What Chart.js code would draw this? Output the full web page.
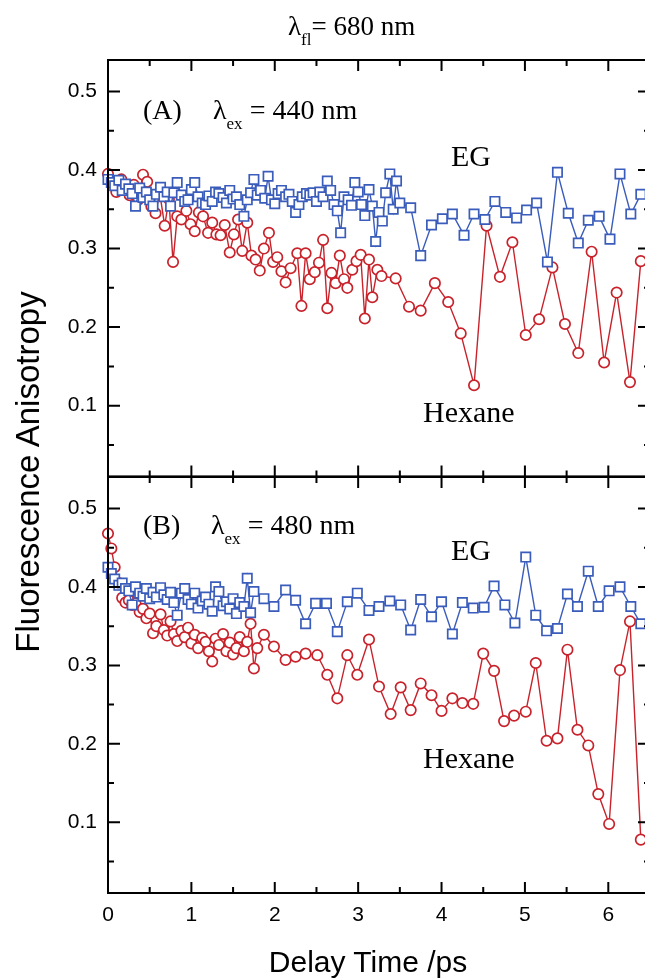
<!DOCTYPE html>
<html>
<head>
<meta charset="utf-8">
<script src="https://cdn.jsdelivr.net/npm/chart.js@4.4.0/dist/chart.umd.min.js"></script>
<style>
  html, body { margin: 0; padding: 0; background: #fff; }
  #page { position: relative; width: 645px; height: 979px; overflow: hidden; background: #fff; }
  canvas { position: absolute; left: 0; }
  #chartA { top: 0; }
  #chartB { top: 450px; }
  .note { position: absolute; font-family: 'Liberation Serif', 'Times New Roman', serif; font-size: 28px; line-height: 1; white-space: nowrap; color: #000; }
  .note sub { font-size: 17px; line-height: 0; vertical-align: -10px; }
  .big { font-size: 30px; }
  #ytitle { position: absolute; left: -222px; top: 455px; width: 500px; height: 34px; line-height: 34px; text-align: center;
    font-family: 'Liberation Sans', Arial, sans-serif; font-size: 33px; color: #000; transform: rotate(-90deg); white-space: nowrap; }
  #xtitle { position: absolute; left: 168px; top: 946px; width: 400px; text-align: center; line-height: 32px;
    font-family: 'Liberation Sans', Arial, sans-serif; font-size: 30px; color: #000; white-space: nowrap; }
</style>
</head>
<body>
<div id="page">
  <canvas id="chartA" width="660" height="500"></canvas>
  <canvas id="chartB" width="660" height="529"></canvas>
  <div class="note" style="left:288px; top:13px; font-size:27px;">&lambda;<sub>fl</sub>= 680 nm</div>
  <div class="note" style="left:143px; top:96px;">(A)</div>
  <div class="note" style="left:213px; top:96px;">&lambda;<sub>ex</sub> = 440 nm</div>
  <div class="note big" style="left:451px; top:141px;">EG</div>
  <div class="note big" style="left:423px; top:397px;">Hexane</div>
  <div class="note" style="left:143px; top:511px;">(B)</div>
  <div class="note" style="left:211px; top:511px;">&lambda;<sub>ex</sub> = 480 nm</div>
  <div class="note big" style="left:451px; top:535px;">EG</div>
  <div class="note big" style="left:423px; top:743px;">Hexane</div>
  <div id="ytitle">Fluorescence Anisotropy</div>
  <div id="xtitle">Delay Time /ps</div>
</div>
<script>
// panel (A), excitation 440 nm
var hexTimeA = [0.00, 0.05, 0.10, 0.16, 0.21, 0.26, 0.31, 0.36, 0.42, 0.47, 0.52, 0.57, 0.62, 0.68, 0.73, 0.78, 0.83, 0.88, 0.94, 0.99,
  1.04, 1.09, 1.14, 1.20, 1.25, 1.30, 1.35, 1.40, 1.46, 1.51, 1.56, 1.61, 1.67, 1.72, 1.77, 1.82, 1.87, 1.93, 1.98, 2.03,
  2.08, 2.13, 2.19, 2.27, 2.32, 2.37, 2.42, 2.48, 2.53, 2.58, 2.63, 2.68, 2.73, 2.78, 2.83, 2.87, 2.93, 2.98, 3.03, 3.08,
  3.13, 3.17, 3.23, 3.28,
  3.45, 3.61, 3.75, 3.92, 4.08, 4.23, 4.39, 4.54, 4.70, 4.85, 5.01, 5.17, 5.33, 5.48, 5.64, 5.80, 5.95, 6.10, 6.26, 6.39];
var hexAnisoA = [0.395, 0.385, 0.372, 0.388, 0.375, 0.368, 0.381, 0.362, 0.394, 0.385,
  0.354, 0.345, 0.371, 0.329, 0.363, 0.283, 0.341, 0.337, 0.348, 0.331,
  0.322, 0.346, 0.341, 0.320, 0.333, 0.318, 0.317, 0.330, 0.295, 0.318,
  0.337, 0.297, 0.333, 0.291, 0.286, 0.272, 0.300, 0.320, 0.283, 0.289,
  0.271, 0.257, 0.275, 0.294, 0.227, 0.294, 0.261, 0.270, 0.282, 0.311,
  0.224, 0.269, 0.256, 0.291, 0.261, 0.250, 0.273, 0.284, 0.292, 0.211,
  0.286, 0.238, 0.273, 0.265,
  0.262, 0.226, 0.221, 0.256, 0.232, 0.192, 0.126, 0.329, 0.264, 0.308,
  0.190, 0.210, 0.276, 0.204, 0.167, 0.296, 0.155, 0.244, 0.130, 0.284];

var egTimeA = [0.00, 0.04, 0.08, 0.13, 0.17, 0.21, 0.25, 0.29, 0.33, 0.38, 0.42, 0.46, 0.50, 0.54, 0.58, 0.63, 0.67, 0.71, 0.75, 0.79,
  0.83, 0.88, 0.92, 0.96, 1.00, 1.04, 1.08, 1.13, 1.17, 1.21, 1.25, 1.29, 1.33, 1.38, 1.42, 1.46, 1.50, 1.54, 1.58, 1.63,
  1.67, 1.71, 1.75, 1.79, 1.83, 1.88, 1.92, 1.96, 2.00, 2.04, 2.08, 2.13, 2.17, 2.21, 2.25, 2.29, 2.33, 2.38, 2.42, 2.46,
  2.50, 2.54, 2.58, 2.63, 2.67, 2.71, 2.75, 2.79, 2.83, 2.88, 2.92, 2.96, 3.00, 3.04, 3.08, 3.13, 3.17, 3.21, 3.25, 3.29,
  3.33, 3.38, 3.42, 3.46, 3.50,
  3.63, 3.75, 3.88, 4.01, 4.13, 4.27, 4.39, 4.52, 4.64, 4.77, 4.90, 5.02, 5.14, 5.27, 5.39, 5.52, 5.64, 5.76, 5.89, 6.02,
  6.14, 6.27, 6.39];
var egAnisoA = [0.388, 0.384, 0.380, 0.387, 0.374, 0.382, 0.376, 0.370, 0.354, 0.377,
  0.365, 0.372, 0.362, 0.354, 0.369, 0.378, 0.366, 0.372, 0.354, 0.371,
  0.384, 0.368, 0.360, 0.362, 0.375,
  0.384, 0.366, 0.358, 0.356, 0.367, 0.360, 0.372, 0.370, 0.365, 0.358,
  0.374, 0.363, 0.366, 0.356, 0.341, 0.362, 0.371, 0.388, 0.368, 0.374,
  0.364, 0.392, 0.362, 0.357,
  0.370, 0.374, 0.366, 0.369, 0.360, 0.346, 0.356, 0.366, 0.370, 0.368,
  0.371, 0.360, 0.372, 0.366, 0.386, 0.374, 0.356, 0.348, 0.320, 0.366,
  0.362, 0.355, 0.384, 0.372,
  0.356, 0.342, 0.375, 0.354, 0.309, 0.346, 0.335, 0.371, 0.395, 0.350, 0.386, 0.358,
  0.352, 0.291, 0.330, 0.338, 0.344, 0.317, 0.344, 0.337, 0.360, 0.346,
  0.339, 0.349, 0.358, 0.283, 0.397, 0.345, 0.307, 0.336, 0.341, 0.312,
  0.395, 0.344, 0.369];

// panel (B), excitation 480 nm
var hexTimeB = [0.00, 0.04, 0.08, 0.13, 0.17, 0.21, 0.25, 0.29, 0.33, 0.38, 0.42, 0.46, 0.50, 0.54, 0.58, 0.63, 0.67, 0.71, 0.75, 0.79,
  0.83, 0.88, 0.92, 0.96, 1.00, 1.04, 1.08, 1.13, 1.17, 1.21, 1.25, 1.29, 1.33, 1.38, 1.42, 1.46, 1.50, 1.54, 1.58, 1.63,
  1.67, 1.71, 1.75, 1.79,
  1.87, 1.99, 2.13, 2.25, 2.37, 2.51, 2.63, 2.75, 2.87, 2.99, 3.13, 3.25, 3.39, 3.51, 3.63, 3.75, 3.88, 4.00, 4.13, 4.25,
  4.38, 4.50, 4.63, 4.75, 4.87, 5.01, 5.13, 5.26, 5.39, 5.51, 5.63, 5.76, 5.88, 6.01, 6.14, 6.26, 6.39];
var hexAnisoB = [0.468, 0.449, 0.425, 0.405, 0.386, 0.380, 0.383, 0.377, 0.379, 0.368,
  0.372, 0.360, 0.366, 0.341, 0.350, 0.365, 0.345, 0.338, 0.356, 0.340,
  0.331, 0.344, 0.336, 0.348, 0.328, 0.339, 0.322, 0.335, 0.330, 0.318,
  0.305, 0.334, 0.326, 0.340, 0.318, 0.329, 0.314, 0.322, 0.336, 0.318,
  0.330, 0.353, 0.296, 0.322,
  0.339, 0.324, 0.307, 0.311, 0.315, 0.313, 0.288, 0.258, 0.313, 0.288,
  0.333, 0.273, 0.238, 0.272, 0.243, 0.277, 0.262, 0.242, 0.258, 0.252,
  0.251, 0.315, 0.293, 0.229, 0.236, 0.241, 0.303, 0.204, 0.207, 0.320,
  0.218, 0.198, 0.136, 0.098, 0.294, 0.356, 0.078];

var egTimeB = [0.00, 0.04, 0.08, 0.13, 0.17, 0.21, 0.25, 0.29, 0.33, 0.38, 0.42, 0.46, 0.50, 0.54, 0.58, 0.63, 0.67, 0.71, 0.75, 0.79,
  0.83, 0.88, 0.92, 0.96, 1.00, 1.04, 1.08, 1.13, 1.17, 1.21, 1.25, 1.29, 1.33, 1.38, 1.42, 1.46, 1.50, 1.54, 1.58, 1.63,
  1.67, 1.71, 1.75,
  1.87, 1.99, 2.13, 2.25, 2.37, 2.49, 2.62, 2.75, 2.87, 2.99, 3.13, 3.25, 3.38, 3.51, 3.63, 3.75, 3.88, 4.00, 4.13, 4.25,
  4.38, 4.51, 4.63, 4.76, 4.88, 5.01, 5.13, 5.26, 5.39, 5.51, 5.63, 5.76, 5.88, 6.01, 6.14, 6.27, 6.39];
var egAnisoB = [0.425, 0.417, 0.410, 0.402, 0.405, 0.398, 0.395, 0.377, 0.400, 0.392,
  0.388, 0.398, 0.385, 0.393, 0.387, 0.399, 0.390, 0.384, 0.393, 0.380,
  0.364, 0.392, 0.398, 0.384, 0.378, 0.392, 0.373, 0.382, 0.387, 0.378,
  0.369, 0.400, 0.394, 0.376, 0.381, 0.372, 0.385, 0.366, 0.380, 0.375,
  0.411, 0.367, 0.394,
  0.385, 0.375, 0.396, 0.383, 0.353, 0.379, 0.379, 0.343, 0.381, 0.392,
  0.370, 0.375, 0.382, 0.377, 0.345, 0.384, 0.362, 0.381, 0.340, 0.380,
  0.373, 0.374, 0.401, 0.377, 0.354, 0.438, 0.364, 0.344, 0.347, 0.391,
  0.375, 0.420, 0.375, 0.395, 0.400, 0.375, 0.353];

// axes
var xMajor = [0, 1, 2, 3, 4, 5, 6];
var xMinor = [0.5, 1.5, 2.5, 3.5, 4.5, 5.5];
var yMajor = [0.1, 0.2, 0.3, 0.4, 0.5];
var yMinor = [0.05, 0.15, 0.25, 0.35, 0.45];

var hexColor = '#c8222b';
var egColor = '#3a5cbb';
var sansFont = "'Liberation Sans', Arial, sans-serif";

function pairUp(xs, ys) {
  return xs.map(function (x, i) {
    return { x: x, y: ys[i] };
  });
}

// box round the plot area with inward ticks on all four sides
var framePlugin = {
  id: 'frame',
  afterDatasetsDraw: function (chart) {
    var ctx = chart.ctx;
    var a = chart.chartArea;
    var xs = chart.scales.x;
    var ys = chart.scales.y;
    ctx.save();
    ctx.strokeStyle = '#000';
    ctx.lineWidth = 2;
    ctx.strokeRect(a.left, a.top, a.right - a.left, a.bottom - a.top);
    ctx.beginPath();
    function xTick(v, len) {
      var px = xs.getPixelForValue(v);
      ctx.moveTo(px, a.bottom);
      ctx.lineTo(px, a.bottom - len);
      ctx.moveTo(px, a.top);
      ctx.lineTo(px, a.top + len);
    }
    function yTick(v, len) {
      var py = ys.getPixelForValue(v);
      ctx.moveTo(a.left, py);
      ctx.lineTo(a.left + len, py);
      ctx.moveTo(a.right, py);
      ctx.lineTo(a.right - len, py);
    }
    xMajor.forEach(function (v) { xTick(v, 11); });
    xMinor.forEach(function (v) { xTick(v, 6); });
    yMajor.forEach(function (v) { yTick(v, 12); });
    yMinor.forEach(function (v) { yTick(v, 6); });
    ctx.stroke();
    ctx.restore();
  }
};

function makeDatasets(egTime, egAniso, hexTime, hexAniso) {
  return [
    {
      label: 'EG',
      data: pairUp(egTime, egAniso),
      borderColor: egColor,
      borderWidth: 1.4,
      pointStyle: 'rect',
      pointRadius: 6.6,
      pointBorderWidth: 1.7,
      pointBorderColor: egColor,
      pointBackgroundColor: '#fff',
      clip: false
    },
    {
      label: 'Hexane',
      data: pairUp(hexTime, hexAniso),
      borderColor: hexColor,
      borderWidth: 1.4,
      pointStyle: 'circle',
      pointRadius: 5.2,
      pointBorderWidth: 1.7,
      pointBorderColor: hexColor,
      pointBackgroundColor: '#fff',
      clip: false
    }
  ];
}

function makeOptions(showX) {
  return {
    responsive: false,
    animation: false,
    events: [],
    layout: {
      padding: showX ? { top: 27, right: 10, bottom: 0, left: 0 } : { top: 60, right: 10, bottom: 23, left: 0 }
    },
    plugins: { legend: { display: false }, tooltip: { enabled: false } },
    scales: {
      x: {
        type: 'linear',
        min: 0,
        max: 6.5,
        display: showX,
        grid: { display: false, drawTicks: false },
        border: { display: false },
        afterBuildTicks: function (scale) {
          scale.ticks = xMajor.map(function (v) { return { value: v }; });
        },
        afterFit: function (scale) {
          if (showX) {
            scale.height = 86;
          }
        },
        ticks: {
          padding: 10,
          color: '#000',
          maxRotation: 0,
          autoSkip: false,
          font: { family: sansFont, size: 21 },
          callback: function (v) { return String(v); }
        }
      },
      y: {
        type: 'linear',
        min: 0.01,
        max: 0.54,
        grid: { display: false, drawTicks: false },
        border: { display: false },
        afterBuildTicks: function (scale) {
          scale.ticks = yMajor.map(function (v) { return { value: v }; });
        },
        afterFit: function (scale) {
          scale.width = 108;
        },
        ticks: {
          padding: 11,
          color: '#000',
          font: { family: sansFont, size: 21 },
          callback: function (v) { return v.toFixed(1); }
        }
      }
    }
  };
}

var chartA = new Chart(document.getElementById('chartA'), {
  type: 'line',
  data: { datasets: makeDatasets(egTimeA, egAnisoA, hexTimeA, hexAnisoA) },
  options: makeOptions(false),
  plugins: [framePlugin]
});

var chartB = new Chart(document.getElementById('chartB'), {
  type: 'line',
  data: { datasets: makeDatasets(egTimeB, egAnisoB, hexTimeB, hexAnisoB) },
  options: makeOptions(true),
  plugins: [framePlugin]
});
</script>
</body>
</html>
